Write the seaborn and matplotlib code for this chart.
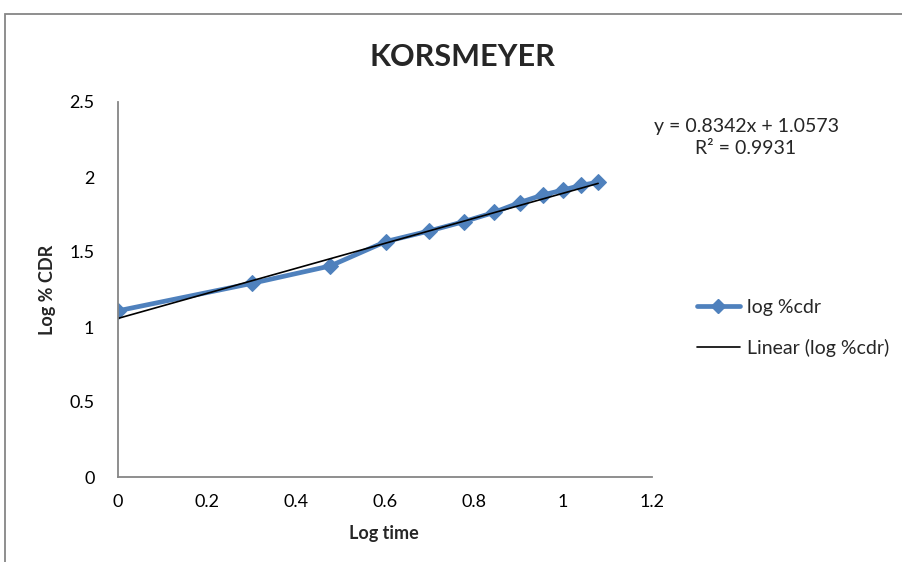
import numpy as np
import pandas as pd
import matplotlib
matplotlib.use("Agg")
import matplotlib.pyplot as plt
import seaborn as sns
from matplotlib.patches import Rectangle
from matplotlib.lines import Line2D

# Data
log_time = [0.0, 0.301, 0.477, 0.602, 0.699, 0.778, 0.845, 0.903, 0.954, 1.0, 1.041, 1.079]
log_cdr = [1.108, 1.291, 1.407, 1.570, 1.640, 1.703, 1.764, 1.830, 1.880, 1.913, 1.945, 1.965]
slope = 0.8342
intercept = 1.0573
r_squared = 0.9931
x_ticks = [0, 0.2, 0.4, 0.6, 0.8, 1, 1.2]
y_ticks = [0, 0.5, 1, 1.5, 2, 2.5]
x_tick_labels = ["0", "0.2", "0.4", "0.6", "0.8", "1", "1.2"]
y_tick_labels = ["0", "0.5", "1", "1.5", "2", "2.5"]

sns.set_theme(style="white")
plt.rcParams['font.family'] = ['Lato', 'DejaVu Sans']

df = pd.DataFrame({"x": log_time, "y": log_cdr})
trend_x = [min(log_time), max(log_time)]
trend_df = pd.DataFrame({"x": trend_x, "y": [slope * v + intercept for v in trend_x]})

W, H = 902, 562
fig = plt.figure(figsize=(W / 100, H / 100), dpi=100)
ax = fig.add_axes([118/W, 1 - 477/H, (652 - 118)/W, (477 - 102)/H])

blue = "#4F81BD"
sns.lineplot(data=df, x="x", y="y", ax=ax, color=blue, linewidth=3.4,
             marker="D", markersize=8.5, markeredgecolor=blue, legend=False)
sns.lineplot(data=trend_df, x="x", y="y", ax=ax, color="black", linewidth=1.2, legend=False)

ax.set_xlim(0, 1.2)
ax.set_ylim(0, 2.5)
ax.set_xticks(x_ticks)
ax.set_xticklabels(x_tick_labels)
ax.set_yticks(y_ticks)
ax.set_yticklabels(y_tick_labels)
ax.tick_params(axis='both', length=0, labelsize=13, colors="black")
ax.tick_params(axis='x', pad=12)
ax.tick_params(axis='y', pad=17)
for s in ["top", "right"]:
    ax.spines[s].set_visible(False)
for s in ["left", "bottom"]:
    ax.spines[s].set_color("#868686")
    ax.spines[s].set_linewidth(1.3)
ax.grid(False)

ax.set_xlabel("")
ax.set_ylabel("")
fig.text(384/W, 1 - 534/H, "Log time", ha="center", va="center",
         fontsize=13, fontweight="bold")
fig.text(48/W, 1 - 290/H, "Log % CDR", ha="center", va="center", rotation=90,
         fontsize=13, fontweight="bold")

fig.text(462/W, 1 - 57/H, "KORSMEYER", ha="center", va="center",
         fontsize=22, fontweight="bold")
fig.text(746/W, 1 - 126/H, f"y = {slope}x + {intercept}", ha="center", va="center", fontsize=14)
fig.text(746/W, 1 - 149/H, f"R² = {r_squared}", ha="center", va="center", fontsize=14)

handles = [
    Line2D([0], [0], color=blue, linewidth=3.4, marker="D", markersize=7.5),
    Line2D([0], [0], color="black", linewidth=1.2),
]
fig.legend(handles, ["log %cdr", "Linear (log %cdr)"], loc="center left",
           bbox_to_anchor=(697/W, 1 - 328/H), frameon=False, fontsize=14,
           handlelength=2.2, handletextpad=0.35, labelspacing=1.2, borderpad=0,
           borderaxespad=0)

fig.patches.append(Rectangle((5/W, -0.2), 2, 1.2 - 14/H, transform=fig.transFigure,
                             fill=False, edgecolor="#868686", linewidth=1.3))

fig.savefig("out.png", dpi=100)
